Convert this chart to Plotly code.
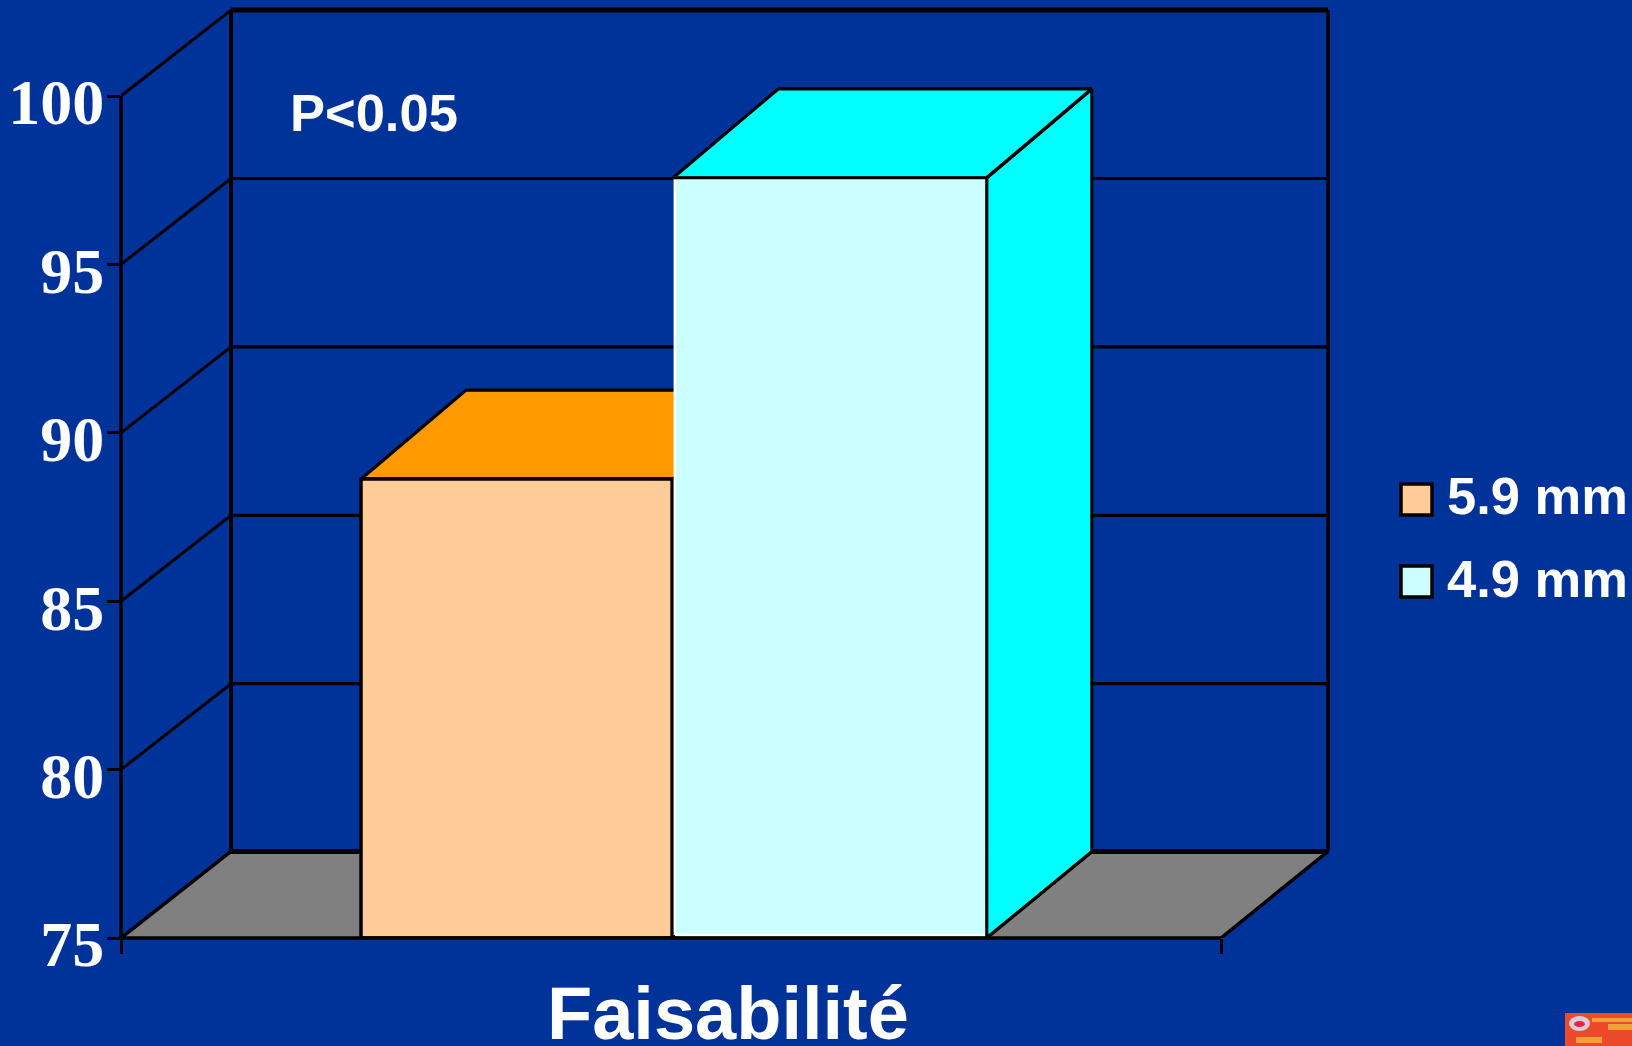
import plotly.graph_objects as go

# ---- data ----
categories = ["Faisabilité"]
series_names = ["5.9 mm", "4.9 mm"]
values_59 = [88.63]
values_49 = [97.57]
y_ticks = [75, 80, 85, 90, 95, 100]
annotation_p = "P<0.05"

# ---- colours ----
BG = "#003399"
BLACK = "#000000"
PEACH, ORANGE = "#FFCC99", "#FF9900"
PALE, CYAN = "#CCFFFF", "#00FFFF"
GREY = "#808080"

# ---- layout constants ----
W, H = 1632, 1046
X0_PX, X1_PX = 121.0, 1221.0      # x=0 and x=1
Y75_PX, UNIT_PX = 938.0, 33.68    # value 75 and px per value unit
L, B = int(X0_PX), H - int(Y75_PX)
x_top = (W - X0_PX) / (X1_PX - X0_PX)
y_top = 75 + Y75_PX / UNIT_PX

WALL_LEFT, WALL_RIGHT = 0.1, 1.0973   # back wall edges
WALL_DY = 2.55                        # oblique depth of the chart box
FLOOR_DY = 2.57
BAR_DX = 0.0955                       # oblique depth of bars
BAR_DY_TOP, BAR_DY_BASE = 2.64, 2.56
BAR_EDGES = [0.2182, 0.5020, 0.7870]  # left of bar 1, shared edge, right of bar 2


def px_x(p):
    return (p - X0_PX) / (X1_PX - X0_PX)


def px_y(p):
    return 75 + (Y75_PX - p) / UNIT_PX


fig = go.Figure()


def poly(xs, ys, fill=None, line=BLACK, width=0, close=True, name=None):
    if close:
        xs, ys = list(xs) + [xs[0]], list(ys) + [ys[0]]
    fig.add_trace(go.Scatter(
        x=xs, y=ys, mode="lines" if width else "none",
        fill="toself" if fill else None,
        fillcolor=fill,
        line=dict(color=line, width=width or 0.1),
        cliponaxis=False, showlegend=False, hoverinfo="skip", name=name))


# gridlines on the back wall and left side wall
for t in y_ticks[1:]:
    poly([0, WALL_LEFT], [t, t + WALL_DY], width=3, close=False)
    poly([WALL_LEFT, WALL_RIGHT], [t + WALL_DY] * 2,
         width=5 if t == 100 else 3.2, close=False)

# box walls
poly([WALL_LEFT] * 2, [75 + FLOOR_DY, 100 + WALL_DY], width=4, close=False)
poly([WALL_RIGHT] * 2, [75 + FLOOR_DY, 100 + WALL_DY], width=3.5, close=False)

# floor
poly([0, 1, WALL_RIGHT, WALL_LEFT], [75, 75, 75 + FLOOR_DY, 75 + FLOOR_DY], fill=GREY)
poly([0, WALL_LEFT], [75, 75 + FLOOR_DY], width=3.5, close=False)
poly([1, WALL_RIGHT], [75, 75 + FLOOR_DY], width=3.5, close=False)
poly([WALL_LEFT, WALL_RIGHT], [75 + FLOOR_DY] * 2, width=5, close=False)


def bar_box(x0, x1, v, side):
    poly([x1, x1 + BAR_DX, x1 + BAR_DX, x1],
         [75, 75 + BAR_DY_BASE, v + BAR_DY_TOP, v], fill=side, width=3)
    poly([x0, x0 + BAR_DX, x1 + BAR_DX, x1],
         [v, v + BAR_DY_TOP, v + BAR_DY_TOP, v], fill=side, width=3.2)


# bar 1
v1 = values_59[0]
bar_box(BAR_EDGES[0], BAR_EDGES[1], v1, ORANGE)
poly([BAR_EDGES[0], BAR_EDGES[0], BAR_EDGES[1] - 0.001, BAR_EDGES[1] - 0.001],
     [75, v1, v1, 75], fill=PEACH, width=3.5, name=series_names[0])

# bar 2
v2 = values_49[0]
bar_box(BAR_EDGES[1], BAR_EDGES[2], v2, CYAN)
poly([BAR_EDGES[1] + 0.0015, BAR_EDGES[1] + 0.0015, BAR_EDGES[2], BAR_EDGES[2]],
     [75.09, v2, v2, 75.09], fill=PALE, line="#FFFFFF", width=2.5, name=series_names[1])
poly([BAR_EDGES[1], BAR_EDGES[2], BAR_EDGES[2], BAR_EDGES[2] + BAR_DX],
     [v2, v2, 75, 75 + BAR_DY_BASE], width=3, close=False)
poly([BAR_EDGES[2], BAR_EDGES[2] + BAR_DX], [v2, v2 + BAR_DY_TOP], width=3.2, close=False)

# legend keys
legend_x = px_x(1416.5)
legend_ys = [px_y(499.5), px_y(581.5)]
fig.add_trace(go.Scatter(
    x=[legend_x] * 2, y=legend_ys, mode="markers",
    marker=dict(symbol="square", size=31, color=[PEACH, PALE],
                line=dict(color=BLACK, width=3.5)),
    cliponaxis=False, showlegend=False, hoverinfo="skip"))

annotations = []
for name, ly, shift in zip(series_names, legend_ys, [4, 3]):
    annotations.append(dict(
        x=px_x(1444.5), y=ly, xref="x", yref="y", text=name, showarrow=False,
        xanchor="left", yanchor="middle", yshift=shift,
        font=dict(family="Liberation Sans", size=52.5, color="white", weight="bold")))
annotations.append(dict(
    x=px_x(288), y=px_y(112), xref="x", yref="y", text=annotation_p, showarrow=False,
    xanchor="left", yanchor="middle",
    font=dict(family="Liberation Sans", size=52.5, color="white", weight="bold")))
annotations.append(dict(
    x=px_x(727.5), y=75, xref="x", yref="y", text=categories[0], showarrow=False,
    xanchor="center", yanchor="top", yshift=-32,
    font=dict(family="Liberation Sans", size=74, color="white", weight="bold")))


def pr(x0, y0, x1, y1):
    return dict(xref="paper", yref="paper",
                x0=(x0 - L) / (W - L), x1=(x1 - L) / (W - L),
                y0=(Y75_PX - y0) / Y75_PX, y1=(Y75_PX - y1) / Y75_PX)


# axis lines on the edges of the plot area (drawn as shapes so they keep full width)
shapes = [
    dict(type="line", xref="paper", yref="y", x0=0, x1=0, y0=75, y1=100,
         line=dict(color=BLACK, width=3.5), layer="above"),
    dict(type="line", xref="x", yref="paper", x0=0, x1=1, y0=0, y1=0,
         line=dict(color=BLACK, width=3.5), layer="above"),
]

# small logo at the lower right corner
shapes.append(dict(type="rect", **pr(1565, 1013, 1632, 1046),
                   fillcolor="#EC4A2A", line=dict(width=0)))
shapes.append(dict(type="circle", **pr(1569, 1016, 1590, 1031),
                   fillcolor="#D6CEDA", line=dict(width=0)))
shapes.append(dict(type="circle", **pr(1574, 1021, 1585, 1027),
                   fillcolor="#F0203C", line=dict(width=0)))
for box in [(1592, 1018, 1632, 1022), (1608, 1024, 1632, 1030), (1576, 1037, 1602, 1043)]:
    shapes.append(dict(type="rect", **pr(*box), fillcolor="#F2A038", line=dict(width=0)))

fig.update_layout(
    width=W, height=H, autosize=False,
    margin=dict(l=L, r=0, t=0, b=B, pad=0),
    paper_bgcolor=BG, plot_bgcolor=BG,
    showlegend=False,
    annotations=annotations, shapes=shapes,
    xaxis=dict(range=[0, x_top], showgrid=False, zeroline=False, showline=False,
               tickmode="array", tickvals=[0, 1], ticktext=["", ""],
               ticks="outside", ticklen=15, tickwidth=3, tickcolor=BLACK),
    yaxis=dict(range=[75, y_top], showgrid=False, zeroline=False, showline=False,
               tickmode="array", tickvals=y_ticks, ticktext=[str(t) for t in y_ticks],
               ticks="outside", ticklen=13, tickwidth=3, tickcolor=BLACK,
               ticklabelstandoff=-10, ticklabelshift=6,
               tickfont=dict(family="Liberation Serif", size=64, color="white", weight="bold")),
)

fig.write_html("out.html", config=dict(displayModeBar=False),
               post_script="document.body.style.margin='0';document.documentElement.style.overflow='hidden';")
